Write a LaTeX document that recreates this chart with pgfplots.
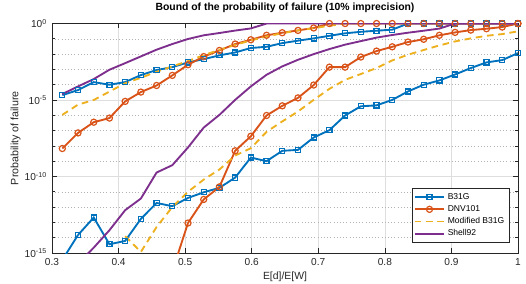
\documentclass[border=0pt]{standalone}
\usepackage{fontspec}
\setmainfont{Liberation Sans}
\usepackage{pgfplots}
\pgfplotsset{compat=1.18}
\definecolor{c1}{rgb}{0,0.447,0.741}
\definecolor{c2}{rgb}{0.850,0.325,0.098}
\definecolor{c3}{rgb}{0.929,0.694,0.125}
\definecolor{c4}{rgb}{0.494,0.184,0.556}
\begin{document}
\begin{tikzpicture}
\path (-39pt,-22.5pt) rectangle (355.5pt,189.75pt);
\begin{axis}[
 at={(0,0)}, anchor=south west,
 scale only axis, width=349.5pt, height=172.1pt,
 xmin=0.3, xmax=1, ymode=log, ymin=1e-15, ymax=1,
 xtick={0.3,0.4,0.5,0.6,0.7,0.8,0.9,1},
 xticklabels={0.3,0.4,0.5,0.6,0.7,0.8,0.9,1},
 ytick={1e-15,1e-10,1e-5,1},
 yticklabels={10\textsuperscript{-15},10\textsuperscript{-10},10\textsuperscript{-5},10\textsuperscript{0}},
 minor ytick={1e-14,1e-13,1e-12,1e-11,1e-9,1e-8,1e-7,1e-6,1e-4,1e-3,1e-2,1e-1},
 xmajorgrids, ymajorgrids, yminorgrids,
 major grid style={black!13, line width=0.4pt},
 minor grid style={black!30, dotted, line width=0.4pt},
 axis line style={black!85, line width=0.5pt},
 tick style={black!85, line width=0.5pt},
 major tick length=3.5pt, minor tick length=2pt,
 tick align=inside,
 ticklabel style={font=\fontsize{7.6}{8.5}\selectfont, text=black!85},
 xticklabel style={yshift=-0.8pt},
 yticklabel style={xshift=-0.3pt},
 title={Bound of the probability of failure (10\% imprecision)},
 title style={at={(axis description cs:0.5,1.02)}, anchor=base, font=\bfseries\fontsize{7.8}{9}\selectfont, inner sep=0pt},
 xlabel={E[d]/E[W]},
 xlabel style={at={(axis description cs:0.5,-0.1176)}, anchor=base, font=\fontsize{7.8}{9}\selectfont, text=black!85, inner sep=0pt},
 ylabel={Probability of failure},
 ylabel style={at={(axis description cs:-0.072,0.5)}, anchor=base, font=\fontsize{8}{9}\selectfont, text=black!85, inner sep=0pt},
 legend style={at={(axis description cs:0.981,0.044)}, anchor=south east, draw=black!85, line width=0.4pt, fill=white,
   font=\fontsize{6.4}{7.5}\selectfont, row sep=-0.9pt, inner sep=1.5pt, cells={anchor=west}},
 legend image code/.code={\draw[mark repeat=2,mark phase=2] plot coordinates {(0pt,0pt) (11pt,0pt) (22pt,0pt)};},
]
% B31G upper
\addplot[c1, line width=1.4pt, mark=square, mark size=1.9pt, mark options={solid, line width=0.9pt}] coordinates {
(0.3155,2.09e-5) (0.3391,4.47e-5) (0.3627,1.48e-4) (0.3863,1.0e-4) (0.4099,1.48e-4)
(0.4335,4.27e-4) (0.4571,9.12e-4) (0.4807,1.41e-3) (0.5043,2.88e-3) (0.5279,4.68e-3)
(0.5515,8.32e-3) (0.5751,1.29e-2) (0.5987,2.51e-2) (0.6223,3.02e-2) (0.6459,5.25e-2)
(0.6695,7.59e-2) (0.6931,0.107) (0.7167,0.158) (0.7403,0.229) (0.7639,0.288)
(0.7875,0.339) (0.8111,0.398) (0.8347,1) (0.8583,1) (0.8819,1)
(0.9055,1) (0.9291,1) (0.9527,1) (0.9763,1) (0.9999,1)};
\addlegendentry{B31G}
\addplot[c1, line width=1.4pt, forget plot] coordinates {(0.3155,3.55e-16) (0.3391,1.51e-14)};
\addplot[c1, line width=1.4pt, mark=square, mark size=1.9pt, mark options={solid, line width=0.9pt}, forget plot] coordinates {
(0.3391,1.51e-14) (0.3627,2.09e-13) (0.3863,3.72e-15) (0.4099,6.17e-15)
(0.4335,1.70e-13) (0.4571,1.86e-12) (0.4807,1.15e-12) (0.5043,3.98e-12) (0.5279,9.33e-12)
(0.5515,1.82e-11) (0.5751,8.51e-11) (0.5987,1.74e-9) (0.6223,1.0e-9) (0.6459,4.79e-9)
(0.6695,5.50e-9) (0.6931,3.55e-8) (0.7167,1.07e-7) (0.7403,9.77e-7) (0.7639,3.89e-6)
(0.7875,4.47e-6) (0.8111,1.02e-5) (0.8347,3.63e-5) (0.8583,1.0e-4) (0.8819,1.91e-4)
(0.9055,4.68e-4) (0.9291,1.23e-3) (0.9527,2.88e-3) (0.9763,4.07e-3) (0.9999,1.17e-2)};
% DNV101
\addplot[c2, line width=1.4pt, mark=o, mark size=2.3pt, mark options={solid, line width=0.9pt}] coordinates {
(0.3155,6.76e-9) (0.3391,7.08e-8) (0.3627,3.55e-7) (0.3863,6.61e-7) (0.4099,8.13e-6)
(0.4335,3.31e-5) (0.4571,8.91e-5) (0.4807,4.07e-4) (0.5043,2.04e-3) (0.5279,6.92e-3)
(0.5515,1.74e-2) (0.5751,4.57e-2) (0.5987,8.71e-2) (0.6223,0.170) (0.6459,0.251)
(0.6695,0.355) (0.6931,0.513) (0.7167,1) (0.7403,1) (0.7639,1)
(0.7875,1) (0.8111,1) (0.8347,1) (0.8583,1) (0.8819,1)
(0.9055,1) (0.9291,1) (0.9527,1) (0.9763,1) (0.9999,1)};
\addlegendentry{DNV101}
\addplot[c2, line width=1.4pt, forget plot] coordinates {(0.4807,6.31e-17) (0.5043,9.12e-14)};
\addplot[c2, line width=1.4pt, mark=o, mark size=2.3pt, mark options={solid, line width=0.9pt}, forget plot] coordinates {
(0.5043,9.12e-14) (0.5279,3.16e-12)
(0.5515,2.09e-11) (0.5751,4.79e-9) (0.5987,4.27e-8) (0.6223,9.77e-7) (0.6459,4.17e-6)
(0.6695,1.38e-5) (0.6931,9.55e-5) (0.7167,1.41e-3) (0.7403,1.41e-3) (0.7639,6.46e-3)
(0.7875,1.58e-2) (0.8111,3.02e-2) (0.8347,6.17e-2) (0.8583,9.33e-2) (0.8819,0.170)
(0.9055,0.263) (0.9291,0.372) (0.9527,0.457) (0.9763,0.589) (0.9999,1)};
% Modified B31G
\addplot[c3, line width=1.4pt, dash pattern=on 5pt off 3.5pt] coordinates {
(0.3155,1.07e-6) (0.3391,5.01e-6) (0.3627,1.0e-5) (0.3863,3.55e-5) (0.4099,1.26e-4)
(0.4335,2.82e-4) (0.4571,7.08e-4) (0.4807,1.58e-3) (0.5043,3.55e-3) (0.5279,8.51e-3)
(0.5515,1.91e-2) (0.5751,3.98e-2) (0.5987,7.94e-2) (0.6223,0.141) (0.6459,0.234)
(0.6695,0.355) (0.6931,0.501) (0.7167,0.708) (0.7403,1) (0.7639,1)
(0.7875,1) (0.8111,1) (0.8347,1) (0.8583,1) (0.8819,1)
(0.9055,1) (0.9291,1) (0.9527,1) (0.9763,1) (0.9999,1)};
\addlegendentry{Modified B31G}
\addplot[c3, line width=1.4pt, dash pattern=on 5pt off 3.5pt, forget plot] coordinates {
(0.4099,1.26e-14) (0.4335,1.17e-15) (0.4571,5.01e-14) (0.4807,1.0e-12) (0.5043,1.0e-11)
(0.5279,6.31e-11) (0.5515,2.88e-10) (0.5751,2.34e-9) (0.5987,7.08e-9) (0.6223,8.32e-8)
(0.6459,3.98e-7) (0.6695,1.78e-6) (0.6931,1.02e-5) (0.7167,5.37e-5) (0.7403,2.09e-4)
(0.7639,5.01e-4) (0.7875,1.23e-3) (0.8111,3.89e-3) (0.8347,9.12e-3) (0.8583,1.86e-2)
(0.8819,3.72e-2) (0.9055,6.76e-2) (0.9291,0.107) (0.9527,0.158) (0.9763,0.204) (0.9999,0.309)};
% Shell92
\addplot[c4, line width=1.4pt] coordinates {
(0.3155,2.45e-5) (0.3391,7.76e-5) (0.3627,2.34e-4) (0.3863,9.55e-4) (0.4099,2.57e-3)
(0.4335,7.08e-3) (0.4571,1.95e-2) (0.4807,4.57e-2) (0.5043,9.77e-2) (0.5279,0.170)
(0.5515,0.240) (0.5751,0.347) (0.5987,0.479) (0.6223,1) (0.6459,1)
(0.6695,1) (0.6931,1) (0.7167,1) (0.7403,1) (0.7639,1)
(0.7875,1) (0.8111,1) (0.8347,1) (0.8583,1) (0.8819,1)
(0.9055,1) (0.9291,1) (0.9527,1) (0.9763,1) (0.9999,1)};
\addlegendentry{Shell92}
\addplot[c4, line width=1.4pt, forget plot] coordinates {
(0.3391,2.0e-16) (0.3627,2.24e-15) (0.3863,3.09e-14) (0.4099,6.31e-13)
(0.4335,3.63e-12) (0.4571,1.82e-10) (0.4807,5.50e-10) (0.5043,7.94e-9) (0.5279,1.58e-7)
(0.5515,1.07e-6) (0.5751,1.02e-5) (0.5987,7.76e-5) (0.6223,4.47e-4) (0.6459,1.58e-3)
(0.6695,4.27e-3) (0.6931,1.0e-2) (0.7167,2.14e-2) (0.7403,4.17e-2) (0.7639,7.08e-2)
(0.7875,0.120) (0.8111,0.178) (0.8347,0.251) (0.8583,0.339) (0.8819,0.468)
(0.9055,1) (0.9291,1) (0.9527,1) (0.9763,1) (0.9999,1)};
\end{axis}
\end{tikzpicture}
\end{document}
